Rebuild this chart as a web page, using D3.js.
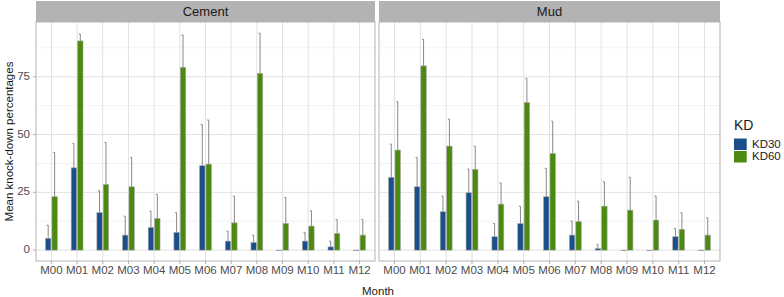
<!DOCTYPE html>
<html>
<head>
<meta charset="utf-8">
<script src="https://cdn.jsdelivr.net/npm/d3@7"></script>
<style>
  body { margin: 0; background: #fff; }
  text { font-family: Arial, "Liberation Sans", sans-serif; }
</style>
</head>
<body>
<div id="chart"></div>
<script>
const months = ["M00","M01","M02","M03","M04","M05","M06","M07","M08","M09","M10","M11","M12"];
const panels = ["Cement", "Mud"];
const groups = ["KD30", "KD60"];
const colors = ["#1b4f8a", "#4b8a0e"];
const yTicks = [0, 25, 50, 75];
const yMinor = [12.5, 37.5, 62.5, 87.5];

// mean and upper error (mean + sd)
const cementKD30 = [5.1, 35.6, 16.2, 6.5, 9.8, 7.7, 36.5, 3.9, 3.3, 0, 3.9, 1.4, 0];
const cementKD30Up = [10.8, 46.2, 25.7, 14.7, 16.9, 16.2, 54.4, 8.2, 6.5, 0, 7.7, 3.9, 0];
const cementKD60 = [23.1, 90.5, 28.4, 27.4, 13.7, 79.1, 37.2, 11.8, 76.5, 11.5, 10.4, 7.2, 6.5];
const cementKD60Up = [42.3, 93.5, 46.6, 40.1, 24.1, 93.1, 56.3, 23.4, 93.9, 22.8, 17.0, 13.3, 13.3];
const mudKD30 = [31.5, 27.4, 16.6, 24.8, 5.8, 11.5, 23.1, 6.5, 0.7, 0, 0, 5.8, 0];
const mudKD30Up = [45.9, 40.1, 23.4, 35.1, 11.5, 19.0, 35.4, 12.6, 2.5, 0, 0, 9.4, 0];
const mudKD60 = [43.3, 79.7, 45.0, 34.9, 19.9, 63.8, 41.8, 12.3, 19.0, 17.3, 13.0, 9.0, 6.5];
const mudKD60Up = [64.2, 91.2, 56.7, 45.0, 29.1, 74.3, 55.8, 21.2, 29.6, 31.5, 23.4, 16.2, 14.0];

const series = {
  Cement: [[cementKD30, cementKD30Up], [cementKD60, cementKD60Up]],
  Mud: [[mudKD30, mudKD30Up], [mudKD60, mudKD60Up]]
};

const W = 784, H = 297;
const panelX = [[36, 375], [379, 720]];
const stripTop = 1, panelTop = 22, panelBottom = 261;

const svg = d3.select("#chart").append("svg")
    .attr("width", W)
    .attr("height", H);

const y = d3.scaleLinear()
    .domain([-4.7, 98.7])
    .range([panelBottom, panelTop]);

panels.forEach((name, pi) => {
  const [x0, x1] = panelX[pi];
  const x = d3.scalePoint().domain(months).range([x0, x1]).padding(0.6);
  const step = x.step();
  const barW = step * 0.21;
  const offs = [-0.125 * step, 0.125 * step];

  const g = svg.append("g");

  // strip
  g.append("rect")
    .attr("x", x0).attr("y", stripTop)
    .attr("width", x1 - x0).attr("height", panelTop - stripTop)
    .attr("fill", "#b3b3b3");
  g.append("text")
    .attr("x", (x0 + x1) / 2).attr("y", (stripTop + panelTop) / 2 + 1)
    .attr("text-anchor", "middle").attr("dominant-baseline", "middle")
    .attr("font-size", 13).attr("fill", "#1a1a1a")
    .text(name);

  // grid
  g.selectAll(".minor").data(yMinor).enter().append("line")
    .attr("x1", x0).attr("x2", x1)
    .attr("y1", d => y(d)).attr("y2", d => y(d))
    .attr("stroke", "#f0f0f0").attr("stroke-width", 0.8);
  g.selectAll(".major").data(yTicks).enter().append("line")
    .attr("x1", x0).attr("x2", x1)
    .attr("y1", d => y(d)).attr("y2", d => y(d))
    .attr("stroke", "#e2e2e2").attr("stroke-width", 1);
  g.selectAll(".vgrid").data(months).enter().append("line")
    .attr("x1", d => x(d)).attr("x2", d => x(d))
    .attr("y1", panelTop).attr("y2", panelBottom)
    .attr("stroke", "#e2e2e2").attr("stroke-width", 1);

  // bars and error lines
  groups.forEach((grp, gi) => {
    const [means, ups] = series[name][gi];
    const bg = g.append("g");
    bg.selectAll("rect").data(months).enter().append("rect")
      .attr("x", (d, i) => x(d) + offs[gi] - barW / 2)
      .attr("y", (d, i) => y(means[i]))
      .attr("width", barW)
      .attr("height", (d, i) => Math.max(0.5, y(0) - y(means[i])))
      .attr("fill", colors[gi])
      .attr("stroke", "#a6a6a6").attr("stroke-width", 0.6);
    const eg = g.append("g");
    months.forEach((m, i) => {
      if (ups[i] <= means[i]) return;
      const cx = x(m) + offs[gi];
      eg.append("line")
        .attr("x1", cx).attr("x2", cx)
        .attr("y1", y(means[i])).attr("y2", y(ups[i]))
        .attr("stroke", "#6a6a6a").attr("stroke-width", 0.8);
      eg.append("line")
        .attr("x1", cx - 1.5).attr("x2", cx)
        .attr("y1", y(ups[i])).attr("y2", y(ups[i]))
        .attr("stroke", "#6a6a6a").attr("stroke-width", 0.8);
    });
  });

  // border
  g.append("rect")
    .attr("x", x0).attr("y", panelTop)
    .attr("width", x1 - x0).attr("height", panelBottom - panelTop)
    .attr("fill", "none").attr("stroke", "#b3b3b3").attr("stroke-width", 1);

  // x axis
  g.selectAll(".xtick").data(months).enter().append("line")
    .attr("x1", d => x(d)).attr("x2", d => x(d))
    .attr("y1", panelBottom).attr("y2", panelBottom + 3)
    .attr("stroke", "#b3b3b3");
  g.selectAll(".xlab").data(months).enter().append("text")
    .attr("x", d => x(d)).attr("y", 271)
    .attr("text-anchor", "middle").attr("dominant-baseline", "middle")
    .attr("font-size", 11.5).attr("fill", "#4d4d4d")
    .text(d => d);

  if (pi === 0) {
    g.selectAll(".ytick").data(yTicks).enter().append("line")
      .attr("x1", x0 - 3).attr("x2", x0)
      .attr("y1", d => y(d)).attr("y2", d => y(d))
      .attr("stroke", "#b3b3b3");
    g.selectAll(".ylab").data(yTicks).enter().append("text")
      .attr("x", x0 - 6).attr("y", d => y(d))
      .attr("text-anchor", "end").attr("dominant-baseline", "middle")
      .attr("font-size", 11.5).attr("fill", "#4d4d4d")
      .text(d => d);
  }
});

// axis titles
svg.append("text")
  .attr("x", (panelX[0][0] + panelX[1][1]) / 2).attr("y", 292)
  .attr("text-anchor", "middle").attr("dominant-baseline", "middle")
  .attr("font-size", 11.5).attr("fill", "#1a1a1a")
  .text("Month");
svg.append("text")
  .attr("transform", "translate(10," + ((panelTop + panelBottom) / 2) + ") rotate(-90)")
  .attr("text-anchor", "middle").attr("dominant-baseline", "middle")
  .attr("font-size", 11.5).attr("fill", "#1a1a1a")
  .text("Mean knock-down percentages");

// legend
const lg = svg.append("g");
lg.append("text")
  .attr("x", 734).attr("y", 126)
  .attr("dominant-baseline", "middle")
  .attr("font-size", 14).attr("fill", "#1a1a1a")
  .text("KD");
groups.forEach((grp, gi) => {
  lg.append("rect")
    .attr("x", 734).attr("y", 138.5 + gi * 12.5)
    .attr("width", 12.7).attr("height", 11.5)
    .attr("fill", colors[gi]);
  lg.append("text")
    .attr("x", 752).attr("y", 144.5 + gi * 12.5)
    .attr("dominant-baseline", "middle")
    .attr("font-size", 11.5).attr("fill", "#1a1a1a")
    .text(grp);
});
</script>
</body>
</html>
